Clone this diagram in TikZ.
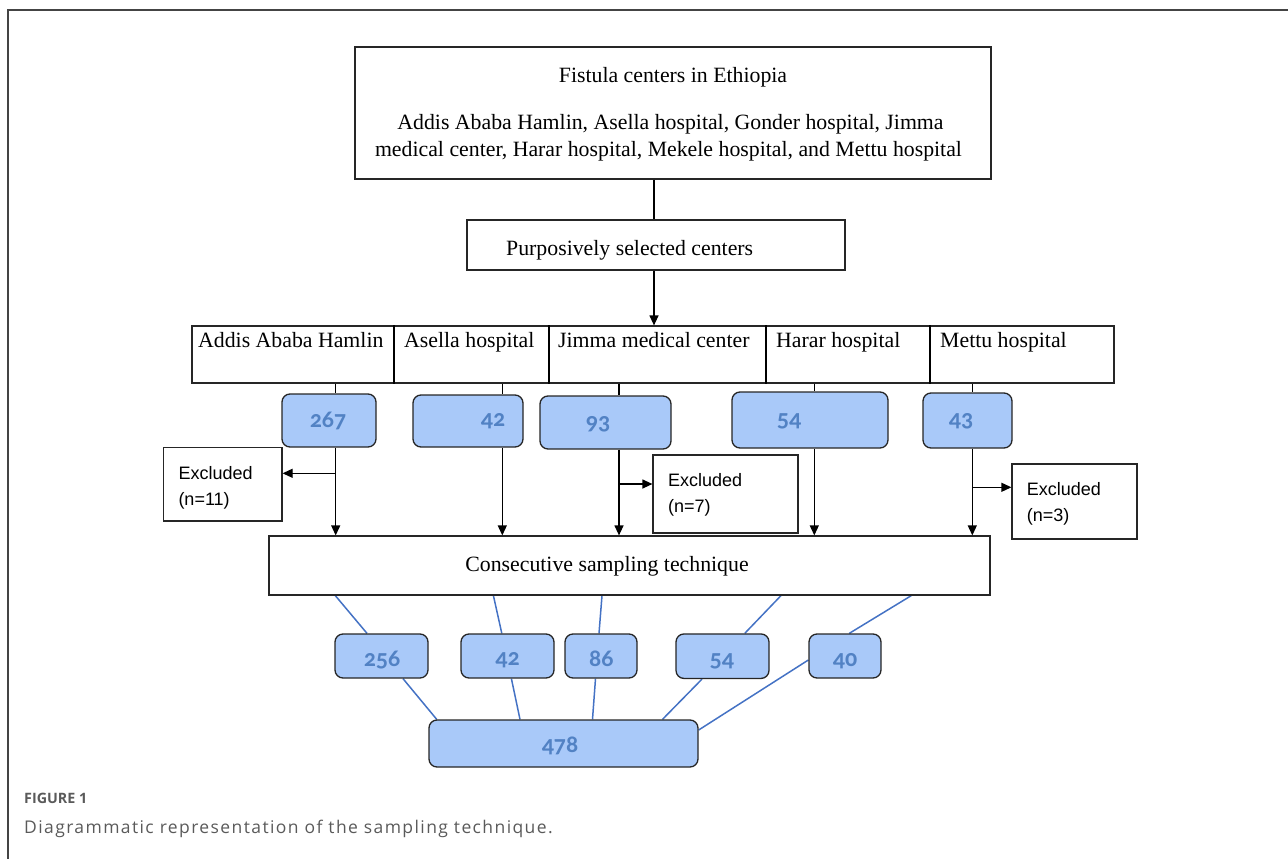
\documentclass[tikz,border=0pt]{standalone}
\usepackage{fontspec}
\setmainfont{Liberation Serif}
\newfontfamily\exfont{Liberation Sans}
\newfontfamily\numfont[Numbers=OldStyle]{Carlito}
\newfontfamily\capfont[LetterSpace=8]{Open Sans}
\newfontfamily\capfontb{Open Sans}
\usetikzlibrary{arrows.meta,calc}
\definecolor{bfill}{HTML}{A9C9F9}
\definecolor{bnum}{HTML}{5282C4}
\definecolor{bline}{HTML}{4472C4}
\definecolor{framec}{HTML}{444444}
\definecolor{captxt}{HTML}{5A5A5A}
\pgfdeclarelayer{bg}
\pgfsetlayers{bg,main}
\begin{document}
\begin{tikzpicture}[x=1pt,y=-1pt,
  wbox/.style={draw=black!85, line width=1.2pt, inner sep=0pt, rectangle},
  bbox/.style={draw=black!85, fill=bfill, rounded corners=8pt, line width=1.3pt, inner sep=0pt},
  num/.style={text=bnum, font=\numfont\bfseries\fontsize{24}{24}\selectfont, inner sep=0pt},
  serif/.style={font=\fontsize{21.8}{21}\selectfont, inner sep=0pt},
  extxt/.style={font=\exfont\fontsize{18}{26}\selectfont, align=left, inner sep=0pt, anchor=north west},
  arr/.style={line width=1.2pt, -{Triangle[length=10pt,width=9pt]}},
  conn/.style={line width=1.2pt},
  bl/.style={draw=bline, line width=1.5pt}]

\useasboundingbox (0,0) rectangle (1288,859);
\draw[framec, line width=2pt] (8,859) -- (8,10) -- (1288,10);

% top box
\node[wbox, minimum width=636pt, minimum height=132pt] (top) at (673,113) {};
\node[serif, anchor=base] (t1) at (673,82) {Fistula centers in Ethiopia};
\node[serif, anchor=base] (t2) at (670.5,129) {Addis Ababa Hamlin, Asella hospital, Gonder hospital, Jimma};
\node[serif, anchor=base] (t3) at (668.5,156) {medical center, Harar hospital, Mekele hospital, and Mettu hospital};

% purposive
\node[wbox, minimum width=378pt, minimum height=50pt] (purp) at (656,245) {};
\node[serif, anchor=base west] (pt) at (506,255) {Purposively selected centers};

% hospitals row
\node[wbox, minimum width=922pt, minimum height=57pt] (row) at (653,354.5) {};
\coordinate (d1) at (394,0);
\coordinate (d2) at (549,0);
\coordinate (d3) at (766,0);
\coordinate (d4) at (930,0);
\foreach \d in {d1,d2,d3,d4} \draw[conn] (row.north -| \d) -- (row.south -| \d);
\node[serif, anchor=base west] (h1) at (198,347) {Addis Ababa Hamlin};
\node[serif, anchor=base west] (h2) at (404,347) {Asella hospital};
\node[serif, anchor=base west] (h3) at (558,347) {Jimma medical center};
\node[serif, anchor=base west] (h4) at (776,347) {Harar hospital};
\node[serif, anchor=base west] (h5) at (940,347) {Mettu hospital};

% first row of counts
\node[bbox, minimum width=94pt, minimum height=53pt] (b1) at (329,420.5) {};
\node[bbox, minimum width=110pt, minimum height=52pt] (b2) at (468,421) {};
\node[bbox, minimum width=131pt, minimum height=53pt] (b3) at (605.5,422.5) {};
\node[bbox, minimum width=156pt, minimum height=56pt] (b4) at (810,420) {};
\node[bbox, minimum width=89pt, minimum height=55pt] (b5) at (967.5,420.5) {};
\node[num] (n1) at (328,421) {267};
\node[num] (n2) at (493,421) {42};
\node[num] (n3) at (598,424) {93};
\node[num] (n4) at (789,421) {54};
\node[num] (n5) at (961,421) {43};

% consecutive
\node[wbox, minimum width=721pt, minimum height=59pt] (cons) at (629.5,565.5) {};
\node[serif, anchor=base] (ct) at (607,571) {Consecutive sampling technique};

% excluded
\node[wbox, minimum width=118.5pt, minimum height=73.5pt] (e1) at (222.75,484.25) {};
\node[wbox, minimum width=145pt, minimum height=78pt] (e2) at (725.5,494) {};
\node[wbox, minimum width=125pt, minimum height=75pt] (e3) at (1074.5,501.5) {};
\node[extxt] (et1) at (178.3,466) {Excluded\\(n=11)};
\node[extxt] (et2) at (668,473.4) {Excluded\\(n=7)};
\node[extxt] (et3) at (1026.7,482.7) {Excluded\\(n=3)};

% vertical connectors
\coordinate (xm) at (654,0);
\draw[conn] (top.south -| xm) -- (purp.north -| xm);
\draw[arr] (purp.south -| xm) -- (row.north -| xm);
\coordinate (x1) at (335.7,0);
\coordinate (x2) at (502.3,0);
\coordinate (x3) at (619,0);
\coordinate (x4) at (814.3,0);
\coordinate (x5) at (972.3,0);
\foreach \i in {1,...,5} {
  \draw[conn] (row.south -| x\i) -- (b\i.north -| x\i);
  \draw[arr] (b\i.south -| x\i) -- (cons.north -| x\i);
}
\coordinate (a1) at (335.7,473.3);
\coordinate (a2) at (619,484);
\coordinate (a3) at (972.3,487.3);
\draw[arr] (a1) -- (a1 -| e1.east);
\draw[arr] (a2) -- (a2 -| e2.west);
\draw[arr] (a3) -- (a3 -| e3.west);

% second row of counts
\node[bbox, minimum width=93pt, minimum height=44pt] (c1) at (381.5,656) {};
\node[bbox, minimum width=93pt, minimum height=44pt] (c2) at (507.5,656) {};
\node[bbox, minimum width=72pt, minimum height=44pt] (c3) at (601,656) {};
\node[bbox, minimum width=93pt, minimum height=44.5pt] (c4) at (722.5,656.2) {};
\node[bbox, minimum width=72pt, minimum height=44pt] (c5) at (845,656) {};
\node[num] (m1) at (382,660) {256};
\node[num] (m2) at (507.5,660) {42};
\node[num] (m3) at (601.3,659) {86};
\node[num] (m4) at (721.8,661.7) {54};
\node[num] (m5) at (845,660.7) {40};

\node[bbox, minimum width=269pt, minimum height=47pt] (f) at (563.5,743.5) {};
\node[num] (ft) at (560,746) {478};

% blue connectors
\coordinate (u1) at (335.3,0);  \coordinate (v1) at (367,0);
\coordinate (u2) at (493.4,0);  \coordinate (v2) at (501.8,0);
\coordinate (u3) at (602,0);    \coordinate (v3) at (599,0);
\coordinate (u4) at (781,0);    \coordinate (v4) at (744.8,0);
\coordinate (u5) at (911.3,0);  \coordinate (v5) at (849.3,0);
\coordinate (p1) at (403,0);    \coordinate (q1) at (436.7,0);
\coordinate (p2) at (511.4,0);  \coordinate (q2) at (520,0);
\coordinate (p3) at (595.5,0);  \coordinate (q3) at (592.5,0);
\coordinate (p4) at (702,0);    \coordinate (q4) at (662.5,0);
\coordinate (p5) at (0,660);    \coordinate (q5) at (0,730);
\begin{pgfonlayer}{bg}
\foreach \i in {1,...,5} \draw[bl] (cons.south -| u\i) -- (c\i.north -| v\i);
\foreach \i in {1,...,4} \draw[bl] (c\i.south -| p\i) -- (f.north -| q\i);
\draw[bl] (c5.west |- p5) -- (f.east |- q5);
\end{pgfonlayer}

% caption
\node[anchor=base west, inner sep=0pt, text=captxt, font=\capfontb\bfseries\fontsize{14.3}{15}\selectfont] (cap1) at (24,803.3) {FIGURE 1};
\node[anchor=base west, inner sep=0pt, text=captxt, font=\capfont\fontsize{17.5}{18}\selectfont] (cap2) at (24,833.3) {Diagrammatic representation of the sampling technique.};
\end{tikzpicture}
\end{document}
